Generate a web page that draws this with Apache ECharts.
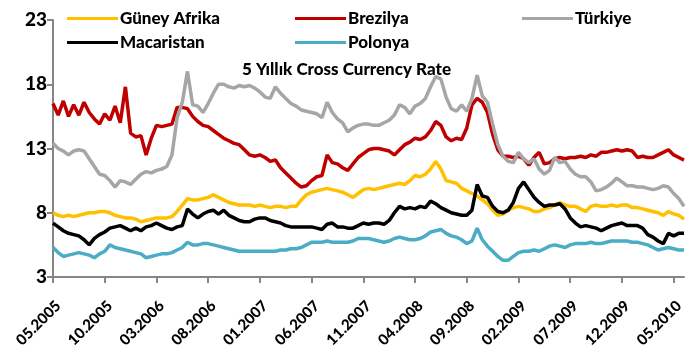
<!DOCTYPE html>
<html>
<head>
<meta charset="utf-8">
<script src="https://cdn.jsdelivr.net/npm/echarts@6/dist/echarts.min.js"></script>
<style>
  html, body { margin: 0; padding: 0; background: #fff; }
  #chart { width: 689px; height: 360px; }
</style>
</head>
<body>
<div id="chart"></div>
<script>
// Semi-monthly observations, first point May 2005, last point mid-June 2010
const startYear = 2005;
const startMonth = 5;
const pointCount = 123;

// Labelled axis positions (every 5 months)
const tickLabels = ['05.2005', '10.2005', '03.2006', '08.2006', '01.2007', '06.2007', '11.2007',
  '04.2008', '09.2008', '02.2009', '07.2009', '12.2009', '05.2010'];

const titleText = '5 Yıllık Cross Currency Rate';
const seriesNames = ['Güney Afrika', 'Brezilya', 'Türkiye', 'Macaristan', 'Polonya'];

const guneyAfrika = [
  8.0,7.8,7.7,7.8,7.7,7.8,7.9,8.0,8.0,8.1,
  8.1,8.0,7.8,7.7,7.6,7.6,7.5,7.3,7.4,7.5,
  7.6,7.6,7.6,7.7,8.1,8.6,9.1,9.0,9.0,9.1,
  9.2,9.4,9.2,9.0,8.8,8.7,8.6,8.6,8.6,8.5,
  8.6,8.5,8.4,8.5,8.5,8.4,8.5,8.5,9.0,9.4,
  9.6,9.7,9.8,9.9,9.8,9.7,9.6,9.4,9.2,9.5,
  9.8,9.9,9.8,9.9,10.0,10.1,10.2,10.3,10.2,10.5,
  10.9,10.8,11.0,11.4,12.0,11.4,10.5,10.4,10.3,9.9,
  9.7,9.5,9.3,9.0,8.7,8.2,7.8,7.9,8.2,8.4,
  8.5,8.4,8.3,8.1,8.1,8.3,8.4,8.6,8.8,8.6,
  8.5,8.5,8.3,8.1,8.5,8.6,8.5,8.5,8.6,8.5,
  8.6,8.6,8.4,8.4,8.3,8.2,8.1,8.0,7.8,8.1,
  7.9,7.8,7.5
];

const brezilya = [
  16.5,15.6,16.7,15.5,16.4,15.6,16.6,15.8,15.3,14.9,
  15.7,15.2,16.3,15.0,17.8,14.2,13.9,14.0,12.5,13.8,
  14.8,14.7,14.8,14.9,16.2,16.2,16.1,15.5,15.1,14.8,
  14.7,14.4,14.1,13.8,13.6,13.4,13.3,12.9,12.5,12.4,
  12.5,12.3,12.0,12.1,11.5,11.1,10.7,10.3,10.0,10.1,
  10.5,10.8,10.9,12.5,11.9,11.8,11.5,11.3,11.8,12.3,
  12.6,12.9,13.0,13.0,12.9,12.8,12.5,12.9,13.3,13.5,
  13.8,13.7,13.9,14.4,15.1,14.8,13.9,13.6,13.8,13.7,
  14.6,16.4,16.9,16.6,15.8,14.1,12.9,12.4,12.4,12.3,
  12.4,12.2,11.7,12.3,12.7,11.8,11.9,12.2,12.3,12.2,
  12.3,12.3,12.4,12.3,12.5,12.4,12.7,12.7,12.8,12.9,
  12.8,12.9,12.8,12.3,12.4,12.3,12.3,12.5,12.7,12.9,
  12.5,12.3,12.1
];

const turkiye = [
  13.4,13.0,12.8,12.5,12.8,12.9,12.8,12.2,11.6,11.0,
  10.9,10.5,10.0,10.5,10.4,10.2,10.6,11.0,11.2,11.1,
  11.3,11.4,11.6,12.5,15.4,16.6,19.0,16.4,16.3,15.8,
  16.5,17.3,18.0,18.0,17.8,17.7,17.9,17.8,17.9,17.7,
  17.4,17.0,16.9,17.8,17.3,16.9,16.5,16.3,16.0,15.9,
  15.8,15.7,15.4,16.6,15.8,15.3,15.0,14.3,14.6,14.8,
  14.9,14.9,14.8,14.8,15.0,15.2,15.6,16.4,16.2,15.7,
  16.3,16.5,16.9,17.8,18.6,18.4,17.0,16.1,15.9,16.4,
  15.9,16.9,18.7,17.1,16.6,14.9,13.3,12.4,12.0,11.9,
  12.7,12.2,11.9,12.2,11.4,11.0,11.3,12.3,11.9,12.0,
  11.4,11.0,10.8,10.8,10.4,9.7,9.8,10.0,10.3,10.7,
  10.4,10.1,10.1,10.0,10.0,9.9,9.8,9.9,10.1,10.0,
  9.5,9.1,8.5
];

const macaristan = [
  7.2,6.9,6.6,6.4,6.3,6.2,5.9,5.5,6.0,6.3,
  6.5,6.8,6.9,7.0,6.8,6.6,6.8,6.6,6.9,7.0,
  7.2,7.0,6.8,6.7,6.9,7.0,8.3,7.9,7.6,7.9,
  8.1,8.2,7.9,8.2,7.8,7.6,7.4,7.3,7.3,7.5,
  7.6,7.6,7.4,7.3,7.2,7.0,6.9,6.9,6.9,6.9,
  6.9,6.8,6.7,7.1,7.2,6.9,6.9,6.8,6.8,7.0,
  7.2,7.1,7.2,7.2,7.1,7.4,8.0,8.5,8.3,8.4,
  8.3,8.5,8.4,8.9,8.7,8.4,8.2,8.0,7.9,7.8,
  7.8,8.2,10.2,9.3,9.2,8.5,8.1,8.0,8.2,8.8,
  9.9,10.4,9.8,9.2,8.8,8.5,8.6,8.6,8.7,8.3,
  7.6,7.2,6.9,7.0,6.9,6.8,6.6,6.8,7.0,7.1,
  7.2,7.0,7.0,7.0,6.8,6.3,6.1,5.8,5.6,6.4,
  6.2,6.4,6.4
];

const polonya = [
  5.3,4.9,4.6,4.7,4.8,4.9,4.8,4.7,4.5,4.8,
  5.0,5.5,5.3,5.2,5.1,5.0,4.9,4.8,4.5,4.6,
  4.7,4.8,4.8,4.9,5.1,5.3,5.7,5.5,5.5,5.6,
  5.6,5.5,5.4,5.3,5.2,5.1,5.0,5.0,5.0,5.0,
  5.0,5.0,5.0,5.0,5.1,5.1,5.2,5.2,5.3,5.5,
  5.7,5.7,5.7,5.8,5.7,5.7,5.7,5.7,5.8,6.0,
  6.0,6.0,5.9,5.8,5.7,5.8,6.0,6.1,6.0,5.9,
  5.9,6.0,6.2,6.5,6.6,6.7,6.4,6.2,6.1,5.9,
  5.6,5.8,6.8,5.9,5.4,5.0,4.6,4.3,4.3,4.6,
  4.9,5.0,5.0,5.1,5.0,5.2,5.4,5.5,5.4,5.3,
  5.5,5.6,5.6,5.6,5.7,5.6,5.6,5.7,5.8,5.8,
  5.8,5.8,5.7,5.7,5.6,5.5,5.3,5.1,5.2,5.3,
  5.2,5.1,5.1
];

const colors = ['#FFC000', '#C00000', '#A6A6A6', '#000000', '#4BACC6'];
const seriesData = [guneyAfrika, brezilya, turkiye, macaristan, polonya];

// Build half-month category keys
const categories = [];
for (let i = 0; i < pointCount; i++) {
  const m = startMonth - 1 + Math.floor(i / 2);
  const y = startYear + Math.floor(m / 12);
  const mm = String((m % 12) + 1).padStart(2, '0');
  categories.push(y + '-' + mm + (i % 2 === 0 ? '-01' : '-15'));
}

const FONT = 'Lato, "Liberation Sans", sans-serif';
const AXIS_GRAY = '#868686';

// One legend block per entry so each sits in its own column/row
const legendPos = [
  { left: 62, top: 5 },
  { left: 290, top: 5 },
  { left: 517, top: 5 },
  { left: 62, top: 29 },
  { left: 290, top: 29 }
];
const legends = seriesNames.map((name, k) => ({
  data: [name],
  left: legendPos[k].left,
  top: legendPos[k].top,
  icon: 'rect',
  itemWidth: 51,
  itemHeight: 3,
  itemGap: 2,
  selectedMode: false,
  textStyle: { fontFamily: FONT, fontWeight: 900, fontSize: 17, color: '#000', padding: [0, 0, 0, -3] }
}));

const chart = echarts.init(document.getElementById('chart'), null, { renderer: 'canvas' });
chart.setOption({
  animation: false,
  backgroundColor: '#fff',
  title: {
    text: titleText,
    left: 237,
    top: 56,
    textStyle: { fontFamily: FONT, fontWeight: 900, fontSize: 17, color: '#000' }
  },
  legend: legends,
  grid: { left: 53, right: 5, top: 20, bottom: 83, containLabel: false },
  xAxis: {
    type: 'category',
    data: categories,
    boundaryGap: false,
    axisLine: { lineStyle: { color: AXIS_GRAY, width: 2 } },
    axisTick: {
      alignWithLabel: true,
      interval: (idx) => idx % 10 === 0,
      length: 6,
      lineStyle: { color: AXIS_GRAY, width: 2 }
    },
    axisLabel: {
      interval: (idx) => idx % 10 === 0,
      rotate: 45,
      margin: 21,
      verticalAlign: 'top',
      fontFamily: FONT,
      fontWeight: 900,
      fontSize: 15,
      color: '#000',
      formatter: (val, idx) => tickLabels[idx / 10] || ''
    },
    splitLine: { show: false }
  },
  yAxis: {
    type: 'value',
    min: 3,
    max: 23,
    interval: 5,
    axisLine: { show: true, lineStyle: { color: AXIS_GRAY, width: 2 } },
    axisTick: { show: true, length: 6, lineStyle: { color: AXIS_GRAY, width: 2 } },
    axisLabel: { margin: 6, fontFamily: FONT, fontWeight: 900, fontSize: 19, color: '#000' },
    splitLine: { show: false }
  },
  series: seriesNames.map((name, k) => ({
    name: name,
    type: 'line',
    data: seriesData[k],
    symbol: 'none',
    smooth: false,
    color: colors[k],
    lineStyle: { color: colors[k], width: 3.5 },
    z: 2 + k
  }))
});
</script>
</body>
</html>
